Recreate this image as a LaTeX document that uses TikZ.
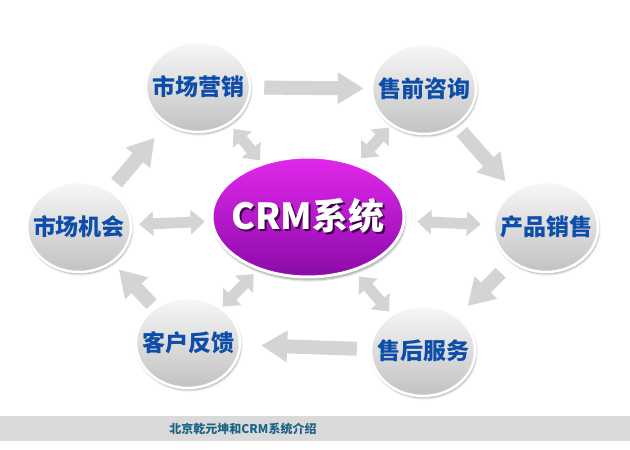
\documentclass[tikz,border=0pt]{standalone}
\usepackage{fontspec}
\setmainfont{Noto Sans CJK SC}
\usetikzlibrary{shapes.geometric,arrows.meta,shadows.blur}
\definecolor{fondgris}{RGB}{218,218,218}
\definecolor{flechegris}{RGB}{212,212,212}
\definecolor{textebleu}{RGB}{14,78,170}
\definecolor{crmhaut}{RGB}{226,40,236}
\definecolor{crmbas}{RGB}{138,10,168}
\definecolor{crmombre}{RGB}{60,0,70}
\definecolor{titrebleu}{RGB}{28,100,135}
\newcommand{\ombre}[1]{\rlap{\kern2pt\raisebox{-2pt}{\textcolor{crmombre}{#1}}}\textcolor{white}{#1}}

\tikzset{
  etape/.style={ellipse, minimum width=104pt, minimum height=90pt, inner xsep=-10pt, inner ysep=0pt,
    draw=white, line width=2.5pt, top color=black!3, bottom color=black!24,
    blur shadow={shadow xshift=1pt, shadow yshift=-2pt, shadow blur steps=6, shadow opacity=35},
    text=textebleu, font=\bfseries\fontsize{23}{26}\selectfont},
  fleche/.style={draw=flechegris, line width=14pt, -{Triangle[width=30pt,length=26pt]}},
  allerretour/.style={draw=flechegris, line width=11pt,
    {Triangle[width=24pt,length=14pt]}-{Triangle[width=24pt,length=14pt]}}
}

\begin{document}
\begin{tikzpicture}[x=1pt,y=-1pt]

    \useasboundingbox (0,0) rectangle (630,450);

    % bandeau du bas
    \fill[fondgris] (0,416) rectangle (630,441);
    \node[text=titrebleu, font=\bfseries\fontsize{12}{14}\selectfont] (titre) at (243,428.5) {北京乾元坤和CRM系统介绍};

    \node[etape] (yingxiao) at (198, 87) {市场营销};
    \node[etape] (zixun) at (424, 89) {售前咨询};
    \node[etape] (xiaoshou) at (546, 227) {产品销售};
    \node[etape] (fuwu) at (423, 351) {售后服务};
    \node[etape] (fankui) at (188, 343) {客户反馈};
    \node[etape] (jihui) at (79, 227) {市场机会};

    \node[ellipse, minimum width=192pt, minimum height=120pt, inner xsep=-14pt, inner ysep=0pt,
      draw=white, line width=3pt, top color=crmhaut, bottom color=crmbas,
      blur shadow={shadow xshift=1pt, shadow yshift=-3pt, shadow blur steps=6, shadow opacity=40},
      font=\bfseries\fontsize{36}{40}\selectfont] (crm) at (308, 217) {\ombre{CRM系统}};

    % le cycle
    \draw[fleche, shorten <=13pt, shorten >=7pt] (yingxiao) -- (zixun);
    \draw[fleche, shorten <=8pt, shorten >=12pt] (zixun) -- (xiaoshou);
    \draw[fleche, shorten <=15pt, shorten >=14pt] (xiaoshou) -- (fuwu);
    \draw[fleche, shorten <=13pt, shorten >=20pt] (fuwu) -- (fankui);
    \draw[fleche, shorten <=4pt, shorten >=9pt] (fankui) -- (jihui);
    \draw[fleche, shorten <=9pt, shorten >=18pt] (jihui) -- (yingxiao);

    % liens avec le centre
    \draw[allerretour, shorten <=7pt, shorten >=6pt] (jihui) -- (crm);
    \draw[allerretour, shorten <=12pt, shorten >=12pt] (crm) -- (xiaoshou);
    \draw[allerretour, shorten <=6pt, shorten >=3pt] (yingxiao) -- (crm);
    \draw[allerretour, shorten <=3pt, shorten >=7pt] (zixun) -- (crm);
    \draw[allerretour, shorten <=1pt, shorten >=6pt] (fankui) -- (crm);
    \draw[allerretour, shorten <=3pt, shorten >=7pt] (fuwu) -- (crm);

\end{tikzpicture}
\end{document}
